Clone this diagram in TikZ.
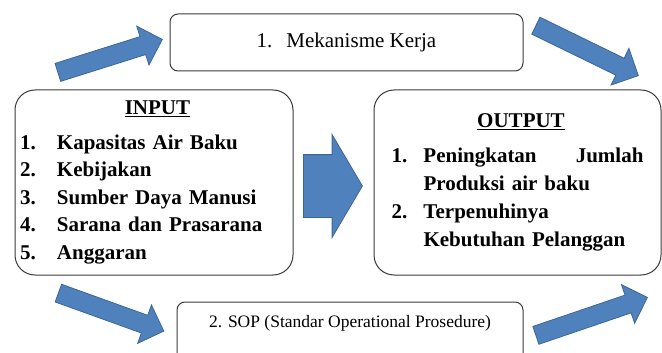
\documentclass[tikz,border=0pt]{standalone}
\usepackage{fontspec}
\setmainfont{Liberation Serif}
\usetikzlibrary{shapes.arrows, positioning}
\definecolor{FlechaAzul}{HTML}{4F81BD}
\definecolor{FlechaBorde}{HTML}{3C6699}
\definecolor{LineaCaja}{HTML}{3A3A3A}
\newcommand{\numitem}[3][37pt]{\makebox[#1][l]{#2}#3}

\begin{document}
\begin{tikzpicture}[
    x=1pt, y=-1pt,
    % Estilos para cajas principales
    mainbox/.style={
            rectangle,
            rounded corners=20pt,
            draw=LineaCaja,
            line width=1pt,
            minimum width=278pt,
            minimum height=185pt,
            inner xsep=5pt,
            align=left,
            font=\bfseries\fontsize{21}{27.5}\selectfont
        },
    % Estilo para procesos
    procbox/.style={
            rectangle,
            rounded corners=8pt,
            draw=LineaCaja,
            line width=1pt,
            minimum height=57pt,
            text centered
        },
    % Flechas de bloque
    blockarrow/.style={
            single arrow,
            fill=FlechaAzul,
            draw=FlechaBorde,
            line width=0.8pt,
            inner sep=0pt,
            text height=18pt,
            text depth=0pt,
            single arrow head extend=11pt,
            anchor=tail
        },
    bigarrow/.style={
            blockarrow,
            text height=62pt,
            single arrow head extend=20pt,
            single arrow tip angle=119
        }
    ]

    \useasboundingbox (0,0) rectangle (662,353);
    \clip (0,0) rectangle (662,353);

    % ========== ENTRADA ==========
    \node[mainbox, text width=268pt] (input) at (154,182.5) {%
        \vspace*{7pt}
        {\centering\underline{INPUT}\par}
        \numitem{1.}{Kapasitas Air Baku}\\
        \numitem{2.}{Kebijakan}\\
        \numitem{3.}{Sumber Daya Manusi}\\
        \numitem{4.}{Sarana dan Prasarana}\\
        \numitem{5.}{Anggaran}};

    % ========== SALIDA ==========
    \node[mainbox, minimum width=287pt, text width=252pt,
        font=\bfseries\fontsize{21}{28}\selectfont, right=80pt of input] (output) {%
        \vspace*{7pt}
        {\centering\underline{OUTPUT}\par}
        \numitem[32pt]{1.}{Peningkatan\hskip 0pt plus 1filll Jumlah}\\
        \hspace*{32pt}Produksi air baku\\
        \numitem[32pt]{2.}{Terpenuhinya}\\
        \hspace*{32pt}Kebutuhan Pelanggan};

    % ========== PROCESOS ==========
    \node[procbox, minimum width=353pt, font=\fontsize{21}{25}\selectfont] (mekanisme) at (346.5,42.5)
        {1.\hspace{14pt}Mekanisme Kerja};
    \node[procbox, minimum width=346pt, anchor=base, inner ysep=0pt,
        text height=25pt, text depth=38pt, font=\fontsize{17.5}{21}\selectfont] (sop) at (350,327)
        {2. SOP (Standar Operational Prosedure)};

    % ========== FLECHAS ==========
    \node[blockarrow, minimum height=109.5pt, rotate=17.5] (flechaA) at (57.5,72.5) {};
    \node[blockarrow, minimum height=114pt, rotate=-26] (flechaB) at (535.5,25.5) {};
    \node[blockarrow, minimum height=112pt, rotate=-19.8] (flechaC) at (58,293) {};
    \node[blockarrow, minimum height=117.8pt, rotate=18.8] (flechaD) at (535.5,335.5) {};
    \node[bigarrow, minimum height=59pt] (flechaE) at (303,186) {};

\end{tikzpicture}
\end{document}
